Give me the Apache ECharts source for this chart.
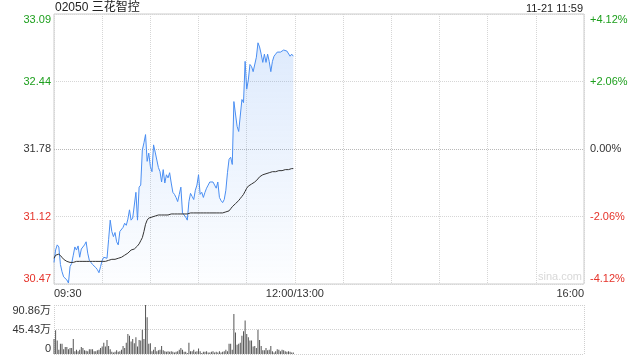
<!DOCTYPE html>
<html><head><meta charset="utf-8">
<script src="https://cdn.jsdelivr.net/npm/echarts@6/dist/echarts.min.js"></script>
<style>html,body{margin:0;padding:0;background:#fff}#c{width:640px;height:360px}</style>
</head><body><div id="c"></div>
<script>
const stockTitle = '02050 三花智控';
const stampText = '11-21 11:59';
const watermark = 'sina.com';
const prevClose = 31.78;
const pctRange = 4.12;
const pctStep = 2.06;
const priceTickLabels = ['30.47', '31.12', '31.78', '32.44', '33.09'];
const pctTickLabels = ['-4.12%', '-2.06%', '0.00%', '+2.06%', '+4.12%'];
const tickTone = ['r', 'r', 'k', 'g', 'g'];
const timeTickPositions = [0, 150, 330];
const timeTickLabels = ['09:30', '12:00/13:00', '16:00'];
const sessionMinutes = 330;
const volumeTickLabels = ['0', '45.43万', '90.86万'];
const volumeMax = 90.86;

const price = [
30.68,30.80,30.85,30.83,30.66,30.59,30.54,30.53,30.51,30.48,
30.64,30.67,30.75,30.83,30.80,30.84,30.73,30.81,30.82,30.85,
30.88,30.77,30.70,30.68,30.66,30.67,30.63,30.61,30.58,30.64,
30.70,30.73,30.73,30.72,30.90,31.09,30.98,30.93,30.97,30.88,
30.85,30.98,30.99,31.02,31.06,31.04,31.10,31.19,31.09,31.11,
31.11,31.36,31.09,31.41,31.43,31.77,31.84,31.92,31.66,31.74,
31.61,31.56,31.82,31.75,31.74,31.60,31.56,31.46,31.58,31.45,
31.53,31.50,31.55,31.45,31.36,31.34,31.31,31.27,31.34,31.41,
31.16,31.14,31.12,31.09,31.27,31.35,31.32,31.29,31.38,31.43,
31.53,31.34,31.36,31.31,31.36,31.40,31.43,31.46,31.47,31.46,
31.43,31.40,31.46,31.31,31.28,31.26,31.29,31.38,31.55,31.68,
31.70,31.63,32.24,32.23,32.00,31.95,31.94,32.26,32.23,32.63,
32.36,32.45,32.60,32.58,32.53,32.53,32.67,32.81,32.77,32.70,
32.62,32.70,32.62,32.70,32.63,32.53,32.63,32.68,32.70,32.72,
32.71,32.72,32.73,32.74,32.73,32.73,32.72,32.68,32.70,32.68
];
const avgPrice = [
30.72,30.75,30.76,30.76,30.75,30.73,30.71,30.70,30.69,30.68,
30.68,30.68,30.68,30.69,30.69,30.69,30.69,30.69,30.69,30.69,
30.69,30.69,30.69,30.69,30.69,30.69,30.69,30.69,30.69,30.69,
30.69,30.69,30.69,30.69,30.70,30.71,30.71,30.71,30.71,30.72,
30.72,30.72,30.73,30.74,30.75,30.76,30.77,30.78,30.80,30.80,
30.81,30.82,30.84,30.86,30.89,30.92,30.98,31.05,31.09,31.11,
31.12,31.12,31.13,31.13,31.13,31.14,31.14,31.14,31.14,31.14,
31.14,31.14,31.14,31.15,31.15,31.15,31.15,31.15,31.15,31.15,
31.15,31.15,31.15,31.15,31.16,31.16,31.16,31.16,31.16,31.16,
31.16,31.16,31.16,31.16,31.16,31.16,31.16,31.16,31.16,31.16,
31.16,31.16,31.16,31.16,31.16,31.16,31.16,31.17,31.17,31.18,
31.20,31.22,31.23,31.25,31.26,31.28,31.30,31.32,31.34,31.37,
31.40,31.42,31.43,31.44,31.45,31.46,31.47,31.49,31.51,31.52,
31.53,31.54,31.54,31.55,31.55,31.56,31.56,31.56,31.56,31.57,
31.57,31.57,31.57,31.58,31.58,31.58,31.58,31.59,31.59,31.59
];
const volume = [
28,44,25,8,19,19,9,13,13,9,
11,11,28,5,8,5,8,13,11,7,
6,5,9,9,9,5,5,7,8,11,
14,21,14,26,15,9,4,3,4,7,
4,5,8,15,11,21,37,34,23,28,
20,31,14,26,25,45,28,90.86,68,19,
20,5,8,13,5,7,8,15,7,5,
4,5,4,5,4,3,4,5,8,11,
8,4,4,2,21,5,5,8,4,5,
10,5,2,4,4,5,3,3,4,5,
3,4,3,5,3,4,5,8,5,19,
19,8,74,40,17,19,21,34,42,62,
37,31,25,25,14,15,11,45,26,15,
7,7,11,7,8,15,5,3,5,9,
8,5,8,7,5,4,5,4,3,3
];

const FONT = 'Arial, "Liberation Sans", "Noto Sans CJK SC", sans-serif';
const GREEN = '#1d9f1d', RED = '#e5332a', DARK = '#333';
const richTones = {
  g: { color: GREEN, fontSize: 11, fontFamily: FONT },
  r: { color: RED, fontSize: 11, fontFamily: FONT },
  k: { color: DARK, fontSize: 11, fontFamily: FONT }
};

const chart = echarts.init(document.getElementById('c'), null, { renderer: 'canvas' });
const pct = p => (p / prevClose - 1) * 100;

chart.setOption({
  animation: false,
  textStyle: { fontFamily: FONT },
  grid: [
    { left: 54, width: 530, top: 14, height: 270, show: true, borderColor: '#ccc', borderWidth: 1, backgroundColor: 'transparent' },
    { left: 54, width: 530, top: 305, height: 49 }
  ],
  xAxis: [
    {
      type: 'value', gridIndex: 0, min: 0, max: sessionMinutes, interval: 30,
      axisLine: { show: false }, axisTick: { show: false },
      splitLine: { show: true, lineStyle: { color: '#d6d6d6', type: 'dotted', width: 1 } },
      axisLabel: {
        color: DARK, fontSize: 11, margin: 4, fontFamily: FONT,
        showMinLabel: true, showMaxLabel: true,
        alignMinLabel: 'left', alignMaxLabel: 'right',
        formatter: v => { const k = timeTickPositions.indexOf(Math.round(v)); return k >= 0 ? timeTickLabels[k] : ''; }
      }
    },
    {
      type: 'value', gridIndex: 1, min: 0, max: sessionMinutes, interval: sessionMinutes,
      axisLine: { show: false }, axisTick: { show: false }, axisLabel: { show: false },
      splitLine: { show: true, lineStyle: { color: '#cfcfcf', type: 'dotted', width: 1 } }
    }
  ],
  yAxis: [
    {
      type: 'value', gridIndex: 0, position: 'left', min: -pctRange, max: pctRange, interval: pctStep,
      axisLine: { show: false }, axisTick: { show: false },
      splitLine: { show: true, lineStyle: { color: ['#d6d6d6', '#d6d6d6', '#b8b8b8', '#d6d6d6', '#d6d6d6'], type: 'dotted', width: 1 } },
      axisLabel: {
        margin: 3, fontSize: 11,
        verticalAlignMinLabel: 'bottom', verticalAlignMaxLabel: 'top',
        formatter: (v, i) => '{' + tickTone[i] + '|' + priceTickLabels[i] + '}',
        rich: richTones
      }
    },
    {
      type: 'value', gridIndex: 0, position: 'right', min: -pctRange, max: pctRange, interval: pctStep,
      axisLine: { show: false }, axisTick: { show: false }, splitLine: { show: false },
      axisLabel: {
        margin: 6, fontSize: 11,
        verticalAlignMinLabel: 'bottom', verticalAlignMaxLabel: 'top',
        formatter: (v, i) => '{' + tickTone[i] + '|' + pctTickLabels[i] + '}',
        rich: richTones
      }
    },
    {
      type: 'value', gridIndex: 1, min: 0, max: volumeMax, interval: volumeMax / 2,
      axisLine: { show: false }, axisTick: { show: false },
      splitLine: { show: true, lineStyle: { color: '#cfcfcf', type: 'dotted', width: 1 } },
      axisLabel: {
        margin: 3, fontSize: 11, color: DARK, fontFamily: FONT,
        verticalAlignMinLabel: 'bottom', verticalAlignMaxLabel: 'top',
        formatter: (v, i) => volumeTickLabels[i]
      }
    }
  ],
  series: [
    {
      type: 'line', xAxisIndex: 0, yAxisIndex: 0, showSymbol: false, z: 3,
      data: price.map((p, i) => [i, pct(p)]),
      lineStyle: { color: '#4a8ef2', width: 1 },
      areaStyle: {
        origin: 'start',
        color: new echarts.graphic.LinearGradient(0, 0, 0, 1, [
          { offset: 0, color: 'rgba(74,142,242,0.26)' },
          { offset: 1, color: 'rgba(74,142,242,0.02)' }
        ])
      }
    },
    {
      type: 'line', xAxisIndex: 0, yAxisIndex: 0, showSymbol: false, z: 4,
      data: avgPrice.map((p, i) => [i, pct(p)]),
      lineStyle: { color: '#333', width: 1 }
    },
    {
      type: 'bar', xAxisIndex: 1, yAxisIndex: 2, barWidth: 1,
      data: volume.map((v, i) => [i, v]),
      itemStyle: { color: '#555' }
    }
  ],
  graphic: [
    { type: 'text', left: 55, top: 2, style: { text: stockTitle, fontSize: 12, fill: '#222', fontFamily: FONT } },
    { type: 'text', right: 57, top: 3, style: { text: stampText, fontSize: 11, fill: '#222', fontFamily: FONT } },
    { type: 'text', right: 58, top: 271, style: { text: watermark, fontSize: 11, fill: '#d8d8d8', fontFamily: FONT } }
  ]
});
</script>
</body></html>
